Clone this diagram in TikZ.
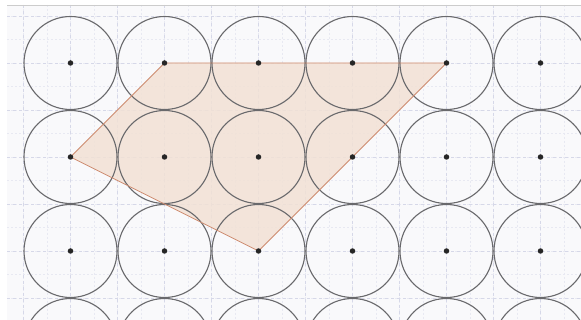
\documentclass[tikz,border=0pt]{standalone}
\definecolor{gridmaj}{RGB}{214,216,232}
\definecolor{gridmin}{RGB}{232,233,242}
\definecolor{polyfill}{RGB}{242,225,213}
\definecolor{polyline}{RGB}{206,140,112}
\definecolor{circline}{RGB}{105,105,108}
\definecolor{bg}{RGB}{249,249,251}
\begin{document}
\begin{tikzpicture}[x=1pt,y=-1pt,
  circ/.style={draw=circline,line width=1.1pt},
  dot/.style={circle,fill=black!85,inner sep=0pt,minimum size=5.5pt},
  majorgrid/.style={draw=gridmaj,line width=0.6pt,dash pattern=on 3pt off 3pt},
  minorgrid/.style={draw=gridmin,line width=0.5pt,dash pattern=on 2pt off 2pt},
  polyfillstyle/.style={fill=polyfill},
  polyedge/.style={draw=polyline,line width=0.8pt,line join=round}]
\useasboundingbox (0,0) rectangle (581,320);
\fill[white] (0,0) rectangle (581,320);
\fill[bg] (7,5) rectangle (581,320);
\coordinate (A) at (70.5,157);
\coordinate (B) at (164.5,63);
\coordinate (C) at (446.5,63);
\coordinate (D) at (258.5,251);
\begin{scope}
\clip (7,5) rectangle (581,320);
\foreach \k in {0,...,26} {
  \pgfmathsetmacro{\xx}{-0.25+23.5*\k}
  \draw[minorgrid] (\xx,5) -- (\xx,320);
}
\foreach \k in {0,...,14} {
  \pgfmathsetmacro{\yy}{-7.5+23.5*\k}
  \draw[minorgrid] (7,\yy) -- (581,\yy);
}
\foreach \k in {0,...,13} {
  \pgfmathsetmacro{\xx}{23.5+47*\k}
  \draw[majorgrid] (\xx,5) -- (\xx,320);
}
\foreach \k in {0,...,7} {
  \pgfmathsetmacro{\yy}{16+47*\k}
  \draw[majorgrid] (7,\yy) -- (581,\yy);
}
\fill[polyfillstyle,opacity=0.85] (A) -- (B) -- (C) -- (D) -- cycle;
\foreach \i in {0,...,5} {
  \foreach \j in {0,...,3} {
    \pgfmathsetmacro{\cx}{70.5+94*\i}
    \pgfmathsetmacro{\cy}{63+94*\j}
    \draw[circ] (\cx,\cy) circle[radius=46.5];
  }
}
\end{scope}
\draw[polyedge] (A) -- (B) -- (C) -- (D) -- cycle;
\foreach \i in {0,...,5} {
  \foreach \j in {0,...,2} {
    \pgfmathsetmacro{\cx}{70.5+94*\i}
    \pgfmathsetmacro{\cy}{63+94*\j}
    \node[dot] (p\i\j) at (\cx,\cy) {};
  }
}
\draw[black!20,line width=0.8pt] (7,5) -- (581,5);
\end{tikzpicture}
\end{document}
